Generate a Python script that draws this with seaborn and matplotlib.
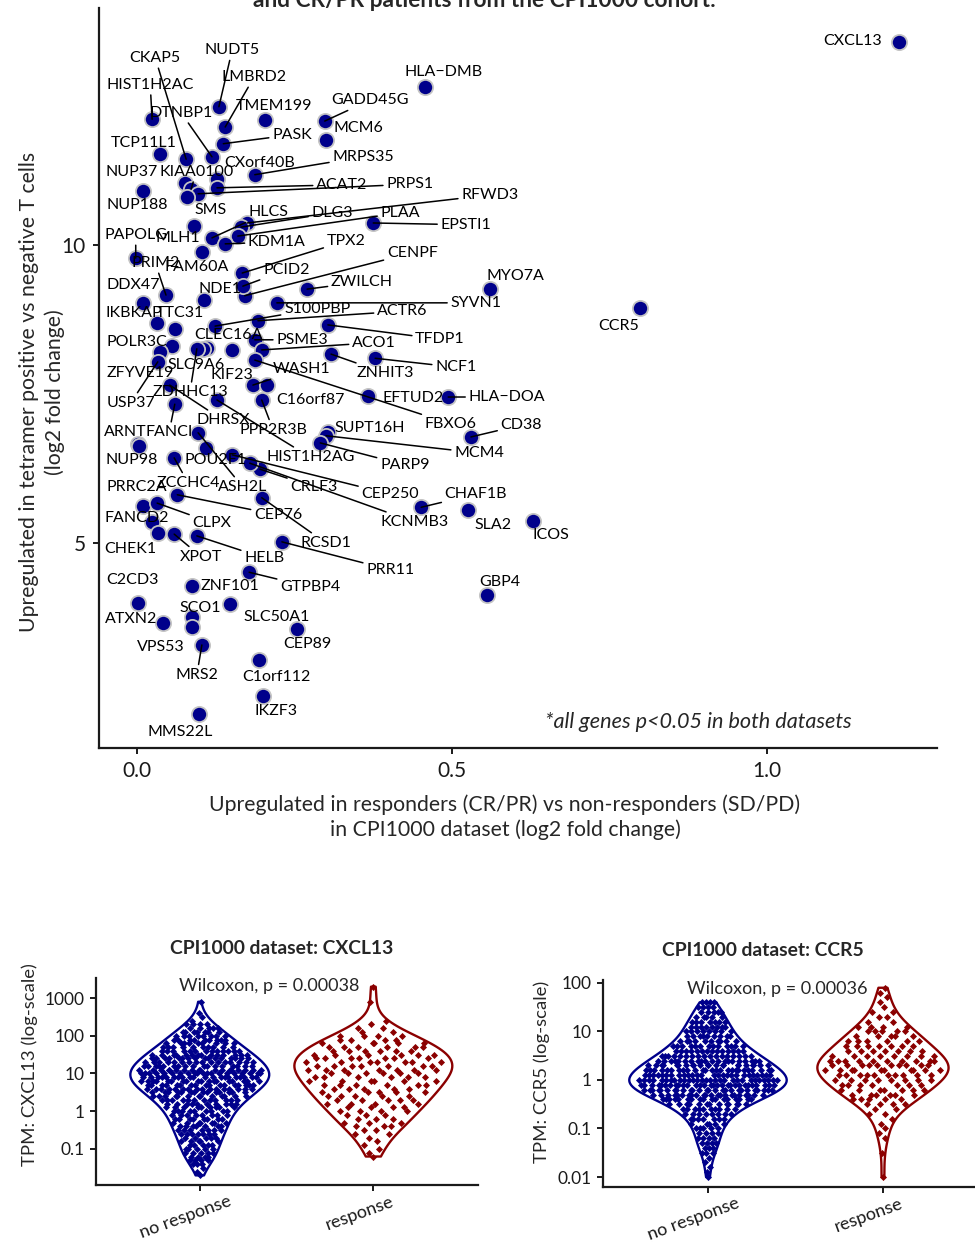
import numpy as np
import pandas as pd
import matplotlib
matplotlib.use("Agg")
import matplotlib.pyplot as plt
import matplotlib.transforms as mtrans
from matplotlib.ticker import NullLocator
import seaborn as sns

sns.set_theme(style="ticks")
plt.rcParams["font.family"] = ["Lato", "DejaVu Sans"]

# ------------------------------------------------------------------ data
genes = ["CXCL13", "HLA\u2212DMB", "NUDT5", "CKAP5", "HIST1H2AC", "LMBRD2", "TMEM199",
         "DTNBP1", "GADD45G", "MCM6", "PASK", "TCP11L1", "MRPS35", "CXorf40B", "NUP37",
         "KIAA0100", "ACAT2", "PRPS1", "NUP188", "SMS", "RFWD3", "HLCS", "DLG3", "PLAA",
         "EPSTI1", "PAPOLG", "MLH1", "KDM1A", "TPX2", "CENPF", "PRIM2", "FAM60A", "PCID2",
         "ZWILCH", "MYO7A", "DDX47", "NDE1", "S100PBP", "SYVN1", "ACTR6", "CCR5", "IKBKAP",
         "TTC31", "CLEC16A", "PSME3", "TFDP1", "POLR3C", "ACO1", "SLC9A6", "NCF1", "ZFYVE19",
         "KIF23", "WASH1", "ZNHIT3", "USP37", "ZDHHC13", "EFTUD2", "HLA\u2212DOA", "C16orf87",
         "DHRSX", "FBXO6", "CD38", "ARNT", "FANCI", "PPP2R3B", "SUPT16H", "MCM4", "NUP98",
         "POU2F1", "HIST1H2AG", "PARP9", "PRRC2A", "ZCCHC4", "ASH2L", "CRLF3", "CEP250",
         "CHAF1B", "CEP76", "KCNMB3", "FANCD2", "CLPX", "SLA2", "ICOS", "CHEK1", "XPOT",
         "HELB", "RCSD1", "PRR11", "C2CD3", "ZNF101", "GTPBP4", "GBP4", "SCO1", "SLC50A1",
         "ATXN2", "CEP89", "VPS53", "MRS2", "C1orf112", "IKZF3", "MMS22L"]

lfc_cpi1000 = [1.210, 0.457, 0.130, 0.078, 0.024, 0.140, 0.203, 0.119, 0.298, 0.300, 0.137,
               0.037, 0.187, 0.127, 0.076, 0.086, 0.127, 0.097, 0.010, 0.079, 0.175, 0.119,
               0.165, 0.160, 0.375, -0.002, 0.091, 0.140, 0.167, 0.171, 0.046, 0.103, 0.168,
               0.270, 0.560, 0.010, 0.106, 0.124, 0.222, 0.192, 0.798, 0.032, 0.060, 0.111,
               0.187, 0.303, 0.056, 0.198, 0.105, 0.378, 0.037, 0.151, 0.184, 0.308, 0.033,
               0.095, 0.367, 0.494, 0.206, 0.052, 0.187, 0.530, 0.002, 0.060, 0.198, 0.303,
               0.300, 0.003, 0.110, 0.127, 0.291, 0.010, 0.059, 0.097, 0.195, 0.151, 0.451,
               0.064, 0.179, 0.024, 0.032, 0.525, 0.629, 0.033, 0.059, 0.095, 0.198, 0.230,
               0.002, 0.087, 0.178, 0.556, 0.087, 0.148, 0.041, 0.254, 0.087, 0.103, 0.194,
               0.200, 0.098]

lfc_tetramer = [13.41, 12.65, 12.32, 11.44, 12.11, 11.98, 12.10, 11.48, 12.08, 11.76, 11.70,
                11.53, 11.18, 11.11, 11.04, 10.94, 10.96, 10.86, 10.91, 10.81, 10.37, 10.12,
                10.30, 10.15, 10.37, 9.78, 10.32, 10.02, 9.53, 9.15, 9.16, 9.88, 9.31,
                9.26, 9.26, 9.03, 9.08, 8.64, 9.03, 8.73, 8.94, 8.69, 8.59, 8.27,
                8.41, 8.66, 8.31, 8.24, 8.26, 8.10, 8.21, 8.24, 7.65, 8.17, 8.04,
                8.26, 7.47, 7.45, 7.65, 7.65, 8.07, 6.78, 6.66, 7.33, 7.40, 6.86,
                6.80, 6.63, 6.59, 7.40, 6.68, 5.62, 6.43, 6.85, 6.24, 6.48, 5.60,
                5.81, 6.34, 5.35, 5.67, 5.55, 5.37, 5.17, 5.15, 5.12, 5.76, 5.02,
                3.99, 4.28, 4.51, 4.13, 3.76, 3.98, 3.66, 3.56, 3.59, 3.29, 3.04,
                2.43, 2.13]

# repelled label positions (layout, in data units)
label_x = [1.135, 0.487, 0.151, 0.029, 0.021, 0.186, 0.218, 0.070, 0.370, 0.352, 0.246,
           0.010, 0.359, 0.195, -0.008, 0.094, 0.325, 0.433, 0.000, 0.116, 0.560, 0.208,
           0.310, 0.418, 0.522, -0.002, 0.065, 0.222, 0.332, 0.437, 0.029, 0.094, 0.237,
           0.357, 0.600, -0.006, 0.132, 0.286, 0.538, 0.421, 0.765, -0.005, 0.068, 0.146,
           0.262, 0.481, 0.000, 0.376, 0.094, 0.506, 0.005, 0.151, 0.262, 0.394, -0.010,
           0.084, 0.438, 0.587, 0.275, 0.137, 0.498, 0.610, -0.018, 0.051, 0.216, 0.370,
           0.543, -0.008, 0.124, 0.275, 0.425, 0.000, 0.081, 0.168, 0.281, 0.402, 0.538,
           0.224, 0.441, 0.000, 0.119, 0.565, 0.657, -0.010, 0.102, 0.202, 0.300, 0.402,
           -0.008, 0.148, 0.275, 0.576, 0.100, 0.222, -0.010, 0.271, 0.038, 0.095, 0.221,
           0.221, 0.068]
label_y = [13.42, 12.90, 13.27, 13.14, 12.69, 12.82, 12.33, 12.22, 12.43, 11.96, 11.85,
           11.71, 11.48, 11.38, 11.23, 11.23, 11.01, 11.02, 10.67, 10.59, 10.84, 10.55,
           10.54, 10.54, 10.34, 10.17, 10.12, 10.05, 10.07, 9.87, 9.70, 9.63, 9.58,
           9.38, 9.48, 9.33, 9.26, 8.93, 9.03, 8.89, 8.64, 8.86, 8.86, 8.49,
           8.41, 8.42, 8.37, 8.36, 7.99, 7.95, 7.85, 7.82, 7.92, 7.85, 7.35,
           7.53, 7.43, 7.45, 7.40, 7.06, 7.00, 6.98, 6.86, 6.86, 6.90, 6.93,
           6.51, 6.39, 6.39, 6.44, 6.31, 5.94, 6.01, 5.94, 5.94, 5.82, 5.82,
           5.47, 5.35, 5.42, 5.34, 5.30, 5.13, 4.90, 4.77, 4.75, 5.00, 4.55,
           4.38, 4.28, 4.26, 4.35, 3.91, 3.76, 3.73, 3.31, 3.26, 2.79, 2.75,
           2.18, 1.83]

no_segment = {"CXCL13", "HLA\u2212DMB", "TMEM199", "MCM6", "TCP11L1", "CXorf40B", "NUP37",
              "NUP188", "SMS", "MLH1", "FAM60A", "MYO7A", "DDX47", "NDE1", "CCR5", "IKBKAP",
              "TTC31", "CLEC16A", "POLR3C", "SLC9A6", "ZFYVE19", "KIF23", "EFTUD2",
              "C16orf87", "ARNT", "SUPT16H", "NUP98", "POU2F1", "PRRC2A", "FANCD2", "SLA2",
              "ICOS", "CHEK1", "C2CD3", "ZNF101", "GBP4", "SCO1", "SLC50A1", "ATXN2", "CEP89",
              "VPS53", "C1orf112", "IKZF3", "MMS22L"}

scatter_xticks = [0.0, 0.5, 1.0]
scatter_xticklabels = ["0.0", "0.5", "1.0"]
scatter_yticks = [5, 10]

groups = ["no response", "response"]
# TPM distributions: counts per 0.1 step of log10(TPM)
cxcl13_nr_start = -1.7
cxcl13_nr_counts = [1, 1, 1, 3, 4, 4, 5, 5, 5, 5, 5, 7, 7, 7, 7, 8, 8, 9, 9, 10,
                    12, 13, 14, 16, 17, 18, 20, 20, 18, 17, 16, 16, 14, 13, 10, 9, 9, 8, 7, 5,
                    4, 1, 1, 1, 0, 0, 1]
cxcl13_r_start = -1.2
cxcl13_r_counts = [1, 1, 1, 1, 1, 1, 2, 2, 3, 3, 3, 3, 4, 4, 4, 5, 5, 5, 5, 6,
                   6, 6, 6, 7, 7, 7, 7, 6, 6, 6, 5, 4, 4, 2, 2, 1, 1, 0, 0, 0,
                   0, 1, 0, 0, 0, 1]
ccr5_nr_start = -2.0
ccr5_nr_counts = [1, 1, 1, 1, 1, 3, 3, 4, 4, 4, 5, 5, 7, 8, 10, 13, 17, 22, 26, 29,
                  29, 26, 25, 22, 20, 17, 14, 13, 10, 9, 8, 8, 7, 5, 5, 4, 4]
ccr5_r_start = -2.0
ccr5_r_counts = [1, 0, 0, 0, 0, 1, 0, 0, 1, 1, 1, 1, 1, 2, 2, 4, 5, 6, 7, 7,
                 8, 10, 10, 10, 10, 8, 7, 7, 6, 5, 5, 4, 2, 2, 2, 1, 1, 1, 1, 1]

cxcl13_ticks = [0.1, 1, 10, 100, 1000]
cxcl13_ticklabels = ["0.1", "1", "10", "100", "1000"]
ccr5_ticks = [0.01, 0.1, 1, 10, 100]
ccr5_ticklabels = ["0.01", "0.1", "1", "10", "100"]
pval_cxcl13 = "Wilcoxon, p = 0.00038"
pval_ccr5 = "Wilcoxon, p = 0.00036"

BLUE = "#00008B"
RED = "#8B0000"

# ------------------------------------------------------------------ figure
W, H = 975, 1242
fig = plt.figure(figsize=(W / 100, H / 100), dpi=100)


def px_axes(x0, y0, x1, y1):
    return fig.add_axes([x0 / W, 1 - y1 / H, (x1 - x0) / W, (y1 - y0) / H])


def style_axes(ax):
    sns.despine(ax=ax)
    for s in ("left", "bottom"):
        ax.spines[s].set_linewidth(1.6)
        ax.spines[s].set_color("#1a1a1a")
    ax.tick_params(length=4.5, width=1.4, color="#1a1a1a", labelcolor="#1a1a1a")


# ---------------- scatter
ax = px_axes(99, 8, 937, 748)
df = pd.DataFrame({"gene": genes, "x": lfc_cpi1000, "y": lfc_tetramer})
sns.scatterplot(data=df, x="x", y="y", s=120, color=BLUE, edgecolor="#c4c4c4",
                linewidth=1.3, ax=ax, zorder=2, legend=False)
ax.set_xlim(-0.0603, 1.2698)
ax.set_ylim(1.561, 13.977)
ax.set_xticks(scatter_xticks)
ax.set_xticklabels(scatter_xticklabels)
ax.set_yticks(scatter_yticks)
style_axes(ax)
ax.tick_params(labelsize=15, pad=5)
ax.set_xlabel("Upregulated in responders (CR/PR) vs non-responders (SD/PD)\n"
              "in CPI1000 dataset (log2 fold change)", fontsize=15.3, linespacing=1.3,
              va="center")
ax.xaxis.set_label_coords((505 - 99) / 838, (748 - 817) / 740)
ax.set_ylabel("Upregulated in tetramer positive vs negative T cells\n(log2 fold change)",
              fontsize=15.3, linespacing=1.3, va="center")
ax.yaxis.set_label_coords((42 - 99) / 838, (748 - 392) / 740)

for g, x, y, lx, ly in zip(genes, lfc_cpi1000, lfc_tetramer, label_x, label_y):
    kw = {}
    if g not in no_segment:
        kw["arrowprops"] = dict(arrowstyle="-", color="black", lw=1.1,
                                shrinkA=0, shrinkB=0)
    ax.annotate(g, xy=(x, y), xytext=(lx, ly), textcoords="data", ha="center",
                va="center", fontsize=11.5, color="black", zorder=4, **kw)

ax.text(0.6476, 2.0, "*all genes p<0.05 in both datasets", style="italic",
        fontsize=15.6, ha="left", va="center")

fig.text(484 / W, 1 - 7 / H, "and CR/PR patients from the CPI1000 cohort:",
         ha="center", va="baseline", fontsize=16.3, fontweight="bold")


# ---------------- violins
def expand(start, counts):
    levels = np.round(start + 0.1 * np.arange(len(counts)), 1)
    return np.repeat(levels, counts)


def vdc(n, base=2):
    v, denom = 0.0, 1.0
    while n:
        n, r = divmod(n, base)
        denom *= base
        v += r / denom
    return v


def sina_offsets(logv, width):
    n = len(logv)
    bw = logv.std(ddof=1) * n ** (-0.2)
    grid = np.linspace(logv.min(), logv.max(), 400)
    dens_grid = np.exp(-0.5 * ((grid[:, None] - logv[None, :]) / bw) ** 2).sum(1)
    dens = np.exp(-0.5 * ((logv[:, None] - logv[None, :]) / bw) ** 2).sum(1)
    frac = dens / dens_grid.max()
    u = np.array([2 * vdc(i + 1) - 1 for i in range(n)])
    return u * frac * width / 2 * 0.9


def violin_panel(ax, nr, r, w_nr, w_r, ticks, ticklabels, ylim, xlim, title, title_x,
                 ylabel, ptext, px, py):
    for i, (logv, w, col) in enumerate([(nr, w_nr, BLUE), (r, w_r, RED)]):
        d = pd.DataFrame({"group": groups[i], "tpm": 10 ** logv})
        sns.violinplot(data=d, x="group", y="tpm", order=groups, log_scale=True, cut=0,
                       inner=None, fill=False, color=col, linewidth=1.7, width=w,
                       density_norm="width", ax=ax)
        pos = i + sina_offsets(logv, w)
        sns.scatterplot(x=pos, y=10 ** logv, marker="D", s=13, color=col, linewidth=0,
                        ax=ax, legend=False, zorder=3)
    ax.set_yscale("log")
    ax.set_ylim(*ylim)
    ax.set_xlim(*xlim)
    ax.set_yticks(ticks)
    ax.set_yticklabels(ticklabels)
    ax.yaxis.set_minor_locator(NullLocator())
    ax.set_xticks([0, 1])
    ax.set_xticklabels(groups, rotation=20, ha="center")
    style_axes(ax)
    ax.tick_params(labelsize=12.5)
    ax.tick_params(axis="x", labelsize=13, pad=1.5)
    shift = mtrans.ScaledTranslation(-14 / 100, 0, fig.dpi_scale_trans)
    for lab in ax.get_xticklabels():
        lab.set_transform(lab.get_transform() + shift)
    ax.set_xlabel("")
    ax.set_ylabel(ylabel, fontsize=13.3, va="center")
    ax.set_title(title, fontsize=13.9, fontweight="bold", x=title_x, pad=17)
    ax.text(px, py, ptext, ha="center", va="center", fontsize=13)


cx_nr = expand(cxcl13_nr_start, cxcl13_nr_counts)
cx_r = expand(cxcl13_r_start, cxcl13_r_counts)
cc_nr = expand(ccr5_nr_start, ccr5_nr_counts)
cc_r = expand(ccr5_r_start, ccr5_r_counts)

ax1 = px_axes(96, 978, 478, 1185)
violin_panel(ax1, cx_nr, cx_r, 0.80, 0.91, cxcl13_ticks, cxcl13_ticklabels,
             (10 ** -1.955, 10 ** 3.53), (-0.598, 1.603), "CPI1000 dataset: CXCL13",
             (282 - 96) / 382, "TPM: CXCL13 (log-scale)", pval_cxcl13, 0.40, 10 ** 3.318)
ax1.yaxis.set_label_coords((30 - 96) / 382, (1185 - 1065) / 207)

ax2 = px_axes(603, 980, 975, 1187)
violin_panel(ax2, cc_nr, cc_r, 0.90, 0.75, ccr5_ticks, ccr5_ticklabels,
             (10 ** -2.206, 10 ** 2.06), (-0.60, 1.526), "CPI1000 dataset: CCR5",
             (763 - 603) / 372, "TPM: CCR5 (log-scale)", pval_ccr5, 0.394, 10 ** 1.876)
ax2.yaxis.set_label_coords((542 - 603) / 372, (1187 - 1072) / 207)

fig.savefig("out.png", dpi=100)
